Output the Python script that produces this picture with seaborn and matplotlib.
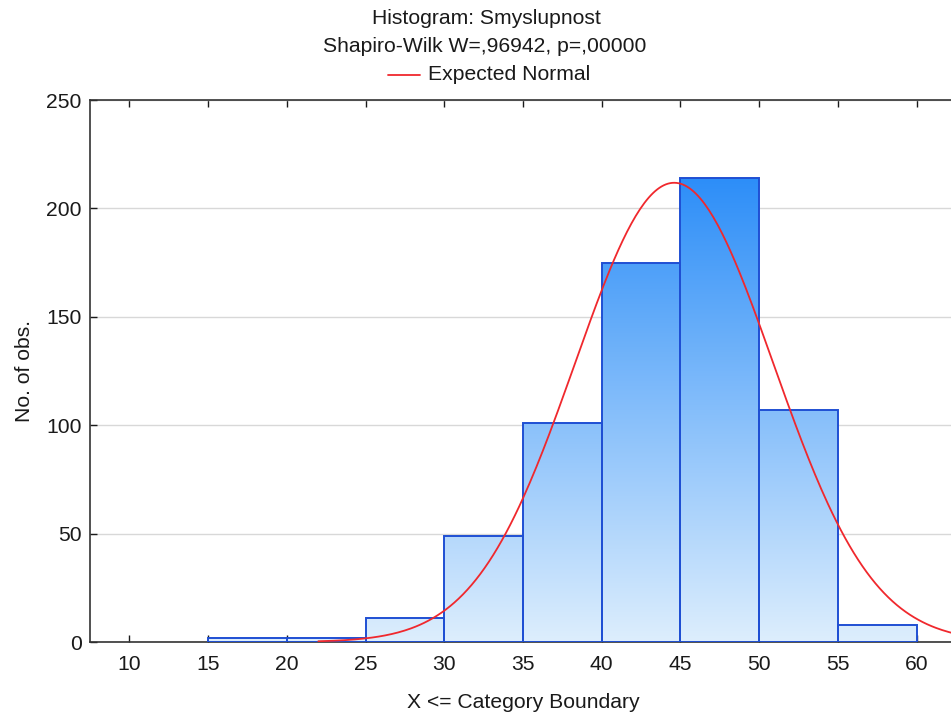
import numpy as np
import pandas as pd
import matplotlib
matplotlib.use("Agg")
import matplotlib.pyplot as plt
import seaborn as sns
from matplotlib.colors import LinearSegmentedColormap

# Category boundaries and counts per class (X <= upper boundary)
bin_edges = [10, 15, 20, 25, 30, 35, 40, 45, 50, 55, 60]
counts = [0, 2, 2, 11, 49, 101, 175, 214, 107, 8]

# Parameters of the fitted normal curve
fit_mean = 44.6
fit_sd = 6.3
n_obs = sum(counts)
bin_width = 5

x_ticks = [10, 15, 20, 25, 30, 35, 40, 45, 50, 55, 60]
y_ticks = [0, 50, 100, 150, 200, 250]

title_lines = ["Histogram: Smyslupnost", "Shapiro-Wilk W=,96942, p=,00000"]
legend_label = "Expected Normal"

sns.set_theme(style="white")
plt.rcParams["font.family"] = ["Liberation Sans", "DejaVu Sans"]

FS = 15.2
TXT = "#1a1a1a"

fig = plt.figure(figsize=(9.51, 7.15), dpi=100)
ax = fig.add_axes([90 / 951, 1 - 642 / 715, 866 / 951, 542 / 715])

centers = [(a + b) / 2 for a, b in zip(bin_edges[:-1], bin_edges[1:])]
df = pd.DataFrame({"center": centers, "count": counts})

sns.histplot(data=df, x="center", weights="count", bins=bin_edges, ax=ax,
             element="bars", fill=True, edgecolor="#1f4fd3", linewidth=1.4,
             facecolor="none", alpha=1.0, zorder=3)

# vertical blue gradient inside each bar
grad_cmap = LinearSegmentedColormap.from_list("bluegrad", ["#ddeefd", "#2d8ef8"])
ymax_grad = max(counts)
grad = np.linspace(0, 1, 256).reshape(-1, 1)
for p in ax.patches:
    h = p.get_height()
    if h <= 0:
        p.set_visible(False)
        continue
    p.set_facecolor("none")
    x0 = p.get_x()
    w = p.get_width()
    im = ax.imshow(grad, cmap=grad_cmap, aspect="auto", origin="lower",
                   extent=[x0, x0 + w, 0, ymax_grad], vmin=0, vmax=1,
                   zorder=2, interpolation="bilinear")
    im.set_clip_path(p)

# expected normal curve
xs = np.linspace(22, 63, 300)
pdf = np.exp(-0.5 * ((xs - fit_mean) / fit_sd) ** 2) / (fit_sd * np.sqrt(2 * np.pi))
expected = n_obs * bin_width * pdf
sns.lineplot(x=xs, y=expected, ax=ax, color="#f0282d", linewidth=1.3, zorder=4)

ax.set_xlim(7.5, 62.5)
ax.set_ylim(0, 250)
ax.set_xticks(x_ticks)
ax.set_yticks(y_ticks)
ax.tick_params(axis="both", labelsize=FS, colors=TXT, direction="in",
               length=5, width=1, top=True, right=False, bottom=True, left=True)
ax.tick_params(axis="y", pad=6)
ax.tick_params(axis="x", pad=9.5)
ax.yaxis.grid(True, color="#d8d8d8", linewidth=1)
ax.set_axisbelow(True)
for s in ax.spines.values():
    s.set_color("#333333")
    s.set_linewidth(1.2)

ax.set_xlabel("X <= Category Boundary", fontsize=FS, color=TXT, labelpad=13.5)
ax.set_ylabel("No. of obs.", fontsize=FS, color=TXT, labelpad=9)

# title block with legend
fig.text(486 / 951, 1 - 18 / 715, title_lines[0], ha="center", va="center",
         fontsize=FS, color=TXT)
fig.text(485 / 951, 1 - 46 / 715, title_lines[1], ha="center", va="center",
         fontsize=FS, color=TXT)
fig.add_artist(plt.Line2D([388 / 951, 420 / 951], [1 - 75 / 715, 1 - 75 / 715],
                          color="#f0282d", linewidth=1.3))
fig.text(428 / 951, 1 - 74 / 715, legend_label, ha="left", va="center",
         fontsize=FS, color=TXT)

fig.savefig("out.png", dpi=100)
